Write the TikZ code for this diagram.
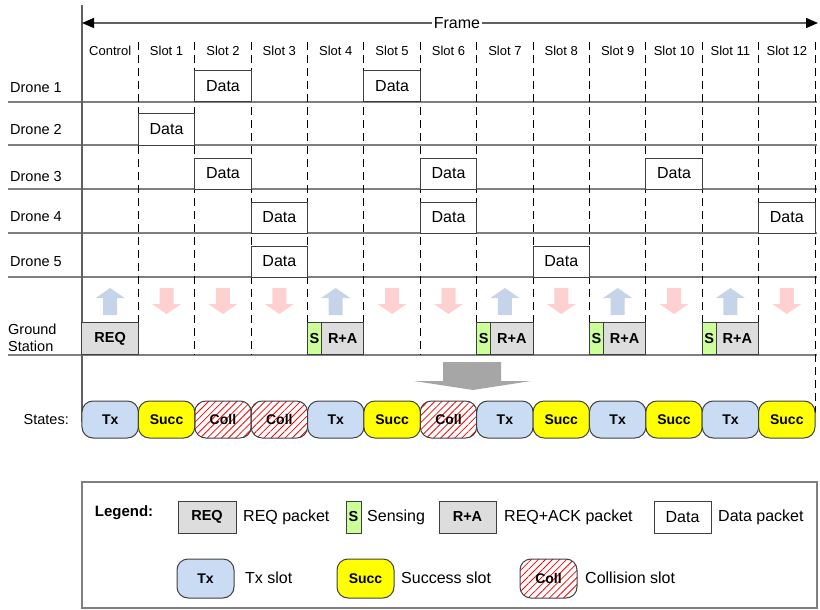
\documentclass[tikz,border=0pt]{standalone}
\usepackage{fontspec}
\setmainfont{Liberation Sans}
\usetikzlibrary{arrows.meta,patterns.meta}
\definecolor{linegray}{HTML}{7F7F7F}
\definecolor{axisgray}{HTML}{606060}
\definecolor{boxborder}{HTML}{3F3F3F}
\definecolor{reqgray}{HTML}{DDDDDD}
\definecolor{sensegreen}{HTML}{CCFF99}
\definecolor{txblue}{HTML}{C9DCF3}
\definecolor{succyellow}{HTML}{FFFF00}
\definecolor{upblue}{HTML}{C5D4E8}
\definecolor{downpink}{HTML}{FFD0D0}
\definecolor{biggray}{HTML}{A6A6A6}
\definecolor{pillborder}{HTML}{404040}
\begin{document}
\begin{tikzpicture}[x=1pt,y=-1pt,
  hline/.style={draw=linegray,line width=1.4pt},
  axisline/.style={draw=axisgray,line width=1.5pt},
  slotdash/.style={draw=black,line width=1pt,dash pattern=on 8pt off 5pt},
  rowlbl/.style={font=\fontsize{14.5}{17}\selectfont,inner sep=0pt},
  slotlbl/.style={font=\fontsize{13}{15}\selectfont,inner sep=0pt},
  legtxt/.style={font=\fontsize{16}{18}\selectfont,inner sep=0pt,anchor=west},
  databox/.style={draw=boxborder,line width=1pt,fill=white,minimum width=56.4pt,minimum height=31pt,inner sep=0pt,font=\fontsize{16}{18}\selectfont},
  reqbox/.style={databox,fill=reqgray,minimum height=32pt,font=\bfseries\fontsize{14.5}{16}\selectfont},
  sensebox/.style={reqbox,fill=sensegreen,minimum width=14pt},
  pill/.style={draw=pillborder,line width=1pt,rounded corners=11pt,minimum width=56.4pt,minimum height=37pt,inner sep=0pt,font=\bfseries\fontsize{14}{16}\selectfont},
  txpill/.style={pill,fill=txblue},
  succpill/.style={pill,fill=succyellow},
  collpill/.style={pill,pattern={Lines[angle=45,distance=5pt,line width=0.8pt]},pattern color=red},
  framearrow/.style={draw=axisgray,line width=1.4pt,{Triangle[length=12pt,width=10pt,color=black]}-{Triangle[length=12pt,width=10pt,color=black]}}
]
\useasboundingbox (0,0) rectangle (820,610);
\def\W{56.385}

% grid lines
\foreach \y in {102,145,189,233,277,355} {
  \draw[hline] (8,\y) -- (817,\y);
}
\foreach \i in {1,...,12} {
  \draw[slotdash] ({82+\W*\i},42) -- ({82+\W*\i},355);
}
\draw[slotdash] (815,42) -- (815,413);
\draw[axisline] (82,5) -- (82,422);

% frame arrow
\coordinate (fl) at (82,23);
\coordinate (fr) at (818,23);
\draw[framearrow] (fl) -- (fr);
\node[fill=white,inner sep=1.5pt,font=\fontsize{16}{18}\selectfont] (frame) at (457,23) {Frame};

% slot labels
\node[slotlbl] (sl0) at ({82+\W*0.5},51) {Control};
\foreach \i in {1,...,12} {
  \node[slotlbl] (sl\i) at ({82+\W*(\i+0.5)},51) {Slot \i};
}

% row labels
\node[rowlbl,anchor=west] (dr1) at (10,88) {Drone 1};
\node[rowlbl,anchor=west] (dr2) at (10,130) {Drone 2};
\node[rowlbl,anchor=west] (dr3) at (10,177) {Drone 3};
\node[rowlbl,anchor=west] (dr4) at (10,217) {Drone 4};
\node[rowlbl,anchor=west] (dr5) at (10,262) {Drone 5};
\node[rowlbl,anchor=west,align=left] (gs) at (8,338) {Ground\\Station};
\node[rowlbl,anchor=east] (stlbl) at (69,420) {States:};

% data packets
\foreach \r/\b/\cols in {1/102/{2,5},2/145/{1},3/189/{2,6,10},4/233/{3,6,12},5/277/{3,8}} {
  \foreach \c in \cols {
    \node[databox] (d\r s\c) at ({82+\W*(\c+0.5)},{\b-15.5}) {Data};
  }
}

% ground station arrows
\foreach \c in {0,4,7,9,11} {
  \pgfmathsetmacro{\cx}{82+\W*(\c+0.5)}
  \fill[upblue] ({\cx-7},315) -- ({\cx-7},298) -- ({\cx-14.5},298) -- (\cx,288) -- ({\cx+14.5},298) -- ({\cx+7},298) -- ({\cx+7},315) -- cycle;
}
\foreach \c in {1,2,3,5,6,8,10,12} {
  \pgfmathsetmacro{\cx}{82+\W*(\c+0.5)}
  \fill[downpink] ({\cx-7},288) -- ({\cx-7},304) -- ({\cx-14.5},304) -- (\cx,314) -- ({\cx+14.5},304) -- ({\cx+7},304) -- ({\cx+7},288) -- cycle;
}

% ground station packets
\node[reqbox] (req) at ({82+\W*0.5},338.5) {REQ};
\foreach \c in {4,7,9,11} {
  \node[sensebox] (s\c) at ({82+\W*\c+7},338.5) {S};
  \node[reqbox,minimum width={\W*1pt-14pt}] (ra\c) at ({82+\W*\c+14+(\W-14)/2},338.5) {R+A};
}

% big arrow
\fill[biggray] (443,362) -- (501,362) -- (501,381) -- (531,381) -- (473,390) -- (414,381) -- (443,381) -- cycle;

% states
\foreach \st/\lab [count=\i from 0] in {txpill/Tx,succpill/Succ,collpill/Coll,collpill/Coll,txpill/Tx,succpill/Succ,collpill/Coll,txpill/Tx,succpill/Succ,txpill/Tx,succpill/Succ,txpill/Tx,succpill/Succ} {
  \node[\st] (st\i) at ({82+\W*(\i+0.5)},419.5) {\lab};
}

% legend
\draw[draw=linegray,line width=1.2pt] (82,482) rectangle (817,608);
\node[inner sep=0pt,font=\bfseries\fontsize{15}{17}\selectfont] (leg) at (124,513) {Legend:};
\node[reqbox,minimum width=58pt] (lreq) at (207,517) {REQ};
\node[legtxt] (lreqt) at (243,517) {REQ packet};
\node[sensebox,minimum width=15pt] (ls) at (353.5,517) {S};
\node[legtxt] (lst) at (367,517) {Sensing};
\node[reqbox,minimum width=57pt] (lra) at (467.5,517) {R+A};
\node[legtxt] (lrat) at (504,517) {REQ+ACK packet};
\node[databox,minimum width=57pt,minimum height=32pt] (ld) at (682.5,517) {Data};
\node[legtxt] (ldt) at (718,517) {Data packet};
\node[txpill,minimum width=57pt,minimum height=39pt] (ltx) at (205.5,578.5) {Tx};
\node[legtxt] (ltxt) at (245,578) {Tx slot};
\node[succpill,minimum width=57pt,minimum height=39pt] (lsu) at (365.5,578.5) {Succ};
\node[legtxt] (lsut) at (401,578) {Success slot};
\node[collpill,minimum width=57pt,minimum height=39pt] (lco) at (548.5,578.5) {Coll};
\node[legtxt] (lcot) at (585,578) {Collision slot};
\end{tikzpicture}
\end{document}
